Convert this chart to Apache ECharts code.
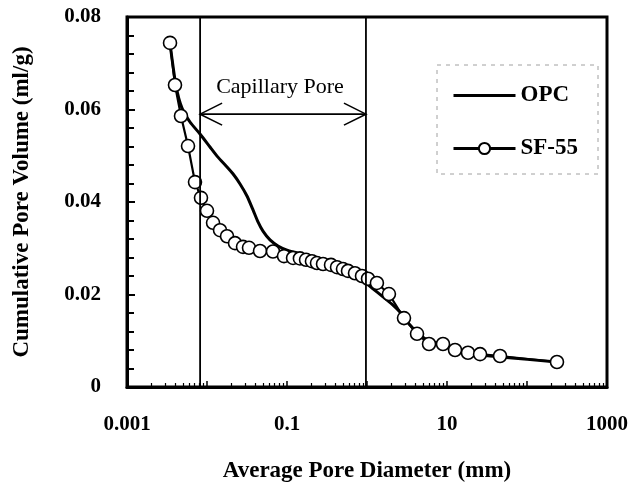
<!DOCTYPE html>
<html>
<head>
<meta charset="utf-8">
<script src="https://cdn.jsdelivr.net/npm/echarts@6/dist/echarts.min.js"></script>
<style>
  html, body { margin: 0; padding: 0; background: #fff; }
  #chart { width: 635px; height: 490px; }
</style>
</head>
<body>
<div id="chart"></div>
<script>
// Cumulative pore volume curves (ml/g) against average pore diameter.
const opcDiameter = [0.00345, 0.0041, 0.00487, 0.00613, 0.00818, 0.0109, 0.0137, 0.0173, 0.0211, 0.0259,
  0.0316, 0.0376, 0.0434, 0.0501, 0.0613, 0.0772, 0.100, 0.133, 0.194, 0.299, 0.460, 0.649, 0.866,
  1.155, 1.585, 2.05, 2.58, 3.45, 4.60, 6.13, 8.91, 12.6, 18.3, 25.9, 46.0, 237];
const opcVolume = [0.0742, 0.0651, 0.0603, 0.0573, 0.0547, 0.0519, 0.0497, 0.0478, 0.0461, 0.0439,
  0.0413, 0.0383, 0.0357, 0.0337, 0.0318, 0.0305, 0.0296, 0.0290, 0.0281, 0.0270, 0.0259, 0.0246, 0.0231,
  0.0214, 0.0195, 0.0179, 0.0162, 0.0134, 0.0112, 0.0099, 0.0093, 0.0080, 0.0074, 0.0069, 0.0065, 0.0054];

const sfDiameter = [0.00345, 0.00398, 0.00473, 0.00579, 0.00708, 0.00841, 0.0100, 0.0119, 0.01455, 0.0178,
  0.0224, 0.0282, 0.0335, 0.0460, 0.0668, 0.0917, 0.119, 0.145, 0.173, 0.205, 0.237, 0.282, 0.355,
  0.422, 0.501, 0.579, 0.708, 0.866, 1.03, 1.33, 1.88, 2.90, 4.22, 5.96, 8.91, 12.6, 18.3, 25.9, 46.0, 237];
const sfVolume = [0.0744, 0.0653, 0.0586, 0.0521, 0.0443, 0.0409, 0.0381, 0.0355, 0.0339, 0.0326,
  0.0311, 0.0303, 0.0301, 0.0294, 0.0293, 0.0283, 0.0279, 0.0278, 0.0275, 0.0272, 0.0268, 0.0266, 0.0264,
  0.0259, 0.0255, 0.0251, 0.0246, 0.0240, 0.0234, 0.0225, 0.0201, 0.0149, 0.0115, 0.0093, 0.0093, 0.0080,
  0.0074, 0.0071, 0.0067, 0.0054];

// Capillary pore range (diameter bounds) and the height of its arrow.
const capillaryBounds = [0.0082, 0.97];
const capillaryArrowLevel = 0.059;
const capillaryText = 'Capillary Pore';

// Value range of the volume axis.
const volumeRange = [0, 0.08];

// Decade labels shown on the diameter axis (every second decade).
const xTickLabels = { '-3': '0.001', '-1': '0.1', '1': '10', '3': '1000' };

const serif = "'Liberation Serif', 'Times New Roman', serif";

const zip = (xs, ys) => xs.map((x, i) => [x, ys[i]]);

const chart = echarts.init(document.getElementById('chart'), null, { renderer: 'canvas' });

chart.setOption({
  backgroundColor: '#ffffff',
  animation: false,
  grid: {
    left: 127, right: 28, top: 17, bottom: 103,
    show: true, borderColor: '#000', borderWidth: 3, backgroundColor: 'transparent'
  },
  legend: {
    orient: 'vertical',
    left: 437, top: 65,
    padding: [19, 20, 14, 15],
    itemWidth: 62, itemHeight: 14, itemGap: 30,
    borderColor: '#a0a0a0', borderWidth: 1, borderType: [4, 5],
    lineStyle: { width: 3 },
    textStyle: { fontFamily: serif, fontWeight: 'bold', fontSize: 23, color: '#000' },
    data: [
      { name: 'OPC', itemStyle: { opacity: 0 } },
      { name: 'SF-55' }
    ]
  },
  xAxis: {
    type: 'log', logBase: 10, min: 0.001, max: 1000,
    name: 'Average Pore Diameter (mm)', nameLocation: 'middle', nameGap: 73,
    nameTextStyle: { fontFamily: serif, fontWeight: 'bold', fontSize: 23, color: '#000' },
    axisLine: { lineStyle: { color: '#000', width: 3 } },
    axisTick: { inside: true, length: 6, lineStyle: { color: '#000', width: 1.5 } },
    minorTick: { show: true, splitNumber: 9, length: 4, lineStyle: { color: '#000', width: 1.2 } },
    splitLine: { show: false },
    axisLabel: {
      margin: 27, color: '#000', fontFamily: serif, fontWeight: 'bold', fontSize: 21,
      formatter: v => {
        const e = Math.round(Math.log10(v));
        return xTickLabels[String(e)] || '';
      }
    }
  },
  yAxis: {
    type: 'value', min: volumeRange[0], max: volumeRange[1], interval: 0.02,
    name: 'Cumulative Pore Volume (ml/g)', nameLocation: 'middle', nameGap: 93,
    nameTextStyle: { fontFamily: serif, fontWeight: 'bold', fontSize: 23, color: '#000' },
    axisLine: { show: true, lineStyle: { color: '#000', width: 3 } },
    axisTick: { inside: true, length: 8, lineStyle: { color: '#000', width: 2 } },
    minorTick: { show: true, splitNumber: 5, length: 7, lineStyle: { color: '#000', width: 2 } },
    splitLine: { show: false },
    axisLabel: {
      margin: 26, color: '#000', fontFamily: serif, fontWeight: 'bold', fontSize: 21,
      formatter: v => (v === 0 ? '0' : v.toFixed(2))
    }
  },
  series: [
    {
      name: 'OPC', type: 'line', data: zip(opcDiameter, opcVolume),
      symbol: 'none', smooth: 0.2, z: 3,
      lineStyle: { color: '#000', width: 3 },
      itemStyle: { color: '#000' }
    },
    {
      name: 'SF-55', type: 'line', data: zip(sfDiameter, sfVolume),
      symbol: 'circle', symbolSize: 13, z: 4,
      lineStyle: { color: '#000', width: 2.2 },
      itemStyle: { color: '#fff', borderColor: '#000', borderWidth: 1.6 }
    },
    {
      // Capillary pore bounds with a double-headed arrow and its caption.
      name: 'capillary', type: 'custom', silent: true, z: 5,
      data: [[capillaryBounds[0], capillaryBounds[1], capillaryArrowLevel]],
      encode: { x: [0, 1], y: 2 },
      renderItem: (params, api) => {
        const a = api.coord([api.value(0), api.value(2)]);
        const b = api.coord([api.value(1), api.value(2)]);
        const lo = api.coord([api.value(0), volumeRange[0]])[1];
        const hi = api.coord([api.value(0), volumeRange[1]])[1];
        const head = 22, half = 11;
        const style = { stroke: '#000', lineWidth: 1.6, fill: null };
        const bound = { stroke: '#000', lineWidth: 1.8, fill: null };
        return {
          type: 'group',
          children: [
            { type: 'line', shape: { x1: a[0], y1: lo, x2: a[0], y2: hi }, style: bound },
            { type: 'line', shape: { x1: b[0], y1: lo, x2: b[0], y2: hi }, style: bound },
            { type: 'line', shape: { x1: a[0], y1: a[1], x2: b[0], y2: b[1] }, style },
            { type: 'polyline', shape: { points: [[a[0] + head, a[1] - half], [a[0], a[1]], [a[0] + head, a[1] + half]] }, style },
            { type: 'polyline', shape: { points: [[b[0] - head, b[1] - half], [b[0], b[1]], [b[0] - head, b[1] + half]] }, style },
            {
              type: 'text',
              style: {
                x: (a[0] + b[0]) / 2 - 3, y: a[1] - 27,
                text: capillaryText, align: 'center', verticalAlign: 'middle',
                font: "22px " + serif, fill: '#000'
              }
            }
          ]
        };
      }
    }
  ]
});
</script>
</body>
</html>
